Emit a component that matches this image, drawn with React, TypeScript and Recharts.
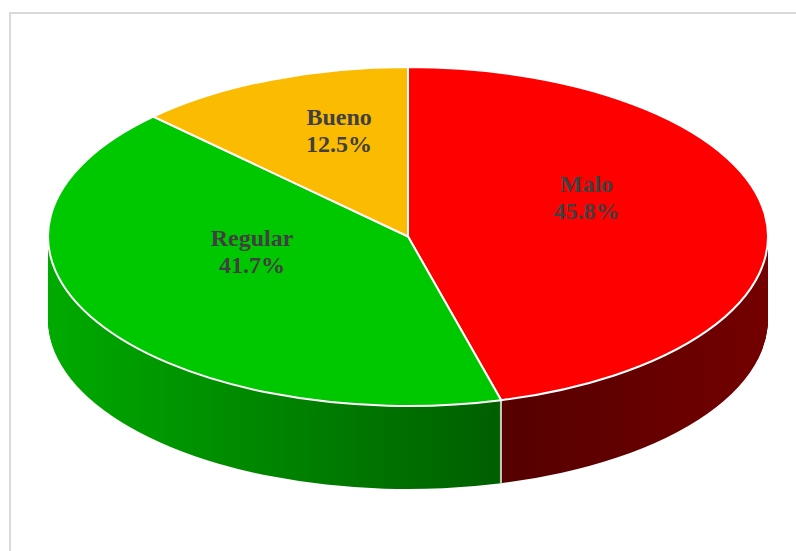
import React from 'react';
import { PieChart, Pie, Cell } from 'recharts';

// survey result: 24 answers
const categories = ['Malo', 'Regular', 'Bueno'];
const counts = [11, 10, 3];
const topColors = ['#ff0000', '#00c800', '#fbbb00'];
const sideColors = ['url(#sideRed)', 'url(#sideGreen)', '#9a7300'];

const data = categories.map((name, i) => ({ name, value: counts[i] }));
const total = counts.reduce((a, b) => a + b, 0);

const W = 796;
const H = 551;
const CX = 408;
const RX = 360;
const RY = 169.5;
const K = RY / RX; // vertical squash of the disc
const CY = 236.5; // screen y of the top face centre
const DEPTH = 83; // thickness of the disc on screen

// stacked copies of the pie make the side wall, deepest first
const sideOffsets = Array.from({ length: DEPTH }, (_, i) => DEPTH - i);

// only the two radial edges get a stroke on the wall copies
const radialDash = (value: number) => {
  const arc = RX * (value / total) * 2 * Math.PI;
  return `0 ${arc} ${2 * RX + 6} 0`;
};

const renderLabel = (p: any) => {
  const rad = (-p.midAngle * Math.PI) / 180;
  const r = p.outerRadius * 0.5;
  const x = p.cx + r * Math.cos(rad);
  const y = (p.cy + r * Math.sin(rad)) * K - 33;
  return (
    <text
      x={x}
      y={y}
      textAnchor="middle"
      fill="#404040"
      fontFamily="'Liberation Serif', 'Times New Roman', serif"
      fontWeight="bold"
      fontSize={24}
    >
      <tspan x={x} y={y}>{categories[p.index]}</tspan>
      <tspan x={x} dy={27}>{(p.percent * 100).toFixed(1)}%</tspan>
    </text>
  );
};

export default function App() {
  return (
    <div
      style={{
        position: 'fixed',
        left: 0,
        top: 0,
        width: W,
        height: H,
        overflow: 'hidden',
        background: '#fff'
      }}
    >
      <style>{`
        .pie3d .recharts-sector { transform: scaleY(${K}); }
        .pie3d .top-sector { vector-effect: non-scaling-stroke; }
      `}</style>
      <div
        style={{
          position: 'absolute',
          left: 9,
          top: 12,
          width: W + 20,
          height: H + 20,
          border: '2px solid #d9d9d9',
          boxSizing: 'border-box'
        }}
      />
      <div className="pie3d" style={{ position: 'absolute', left: 0, top: 0 }}>
        <PieChart width={W} height={H} margin={{ top: 0, right: 0, bottom: 0, left: 0 }}>
          <defs>
            <linearGradient id="sideGreen" x1={48} y1={0} x2={517} y2={0} gradientUnits="userSpaceOnUse">
              <stop offset="0%" stopColor="#00aa00" />
              <stop offset="100%" stopColor="#005c00" />
            </linearGradient>
            <linearGradient id="sideRed" x1={517} y1={0} x2={768} y2={0} gradientUnits="userSpaceOnUse">
              <stop offset="0%" stopColor="#560000" />
              <stop offset="100%" stopColor="#740000" />
            </linearGradient>
          </defs>
          {sideOffsets.map((d) => (
            <Pie
              key={`side-${d}`}
              data={data}
              dataKey="value"
              nameKey="name"
              cx={CX}
              cy={(CY + d) / K}
              outerRadius={RX}
              startAngle={90}
              endAngle={-270}
              isAnimationActive={false}
              label={false}
              labelLine={false}
            >
              {data.map((entry, i) => (
                <Cell
                  key={entry.name}
                  fill={sideColors[i]}
                  stroke="#ffffff"
                  strokeWidth={1.6}
                  strokeDasharray={radialDash(entry.value)}
                />
              ))}
            </Pie>
          ))}
          <Pie
            data={data}
            dataKey="value"
            nameKey="name"
            cx={CX}
            cy={CY / K}
            outerRadius={RX}
            startAngle={90}
            endAngle={-270}
            isAnimationActive={false}
            label={renderLabel}
            labelLine={false}
          >
            {data.map((entry, i) => (
              <Cell
                key={entry.name}
                className="top-sector"
                fill={topColors[i]}
                stroke="#ffffff"
                strokeWidth={2}
              />
            ))}
          </Pie>
        </PieChart>
      </div>
    </div>
  );
}
